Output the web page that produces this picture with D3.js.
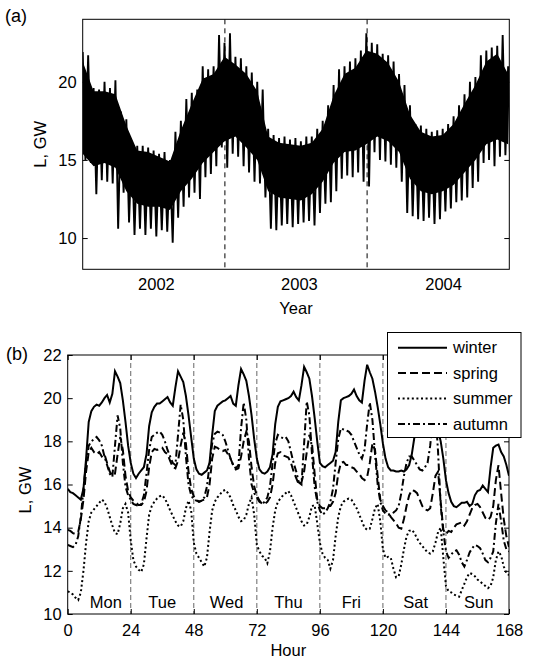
<!DOCTYPE html>
<html>
<head>
<meta charset="utf-8">
<script src="https://cdn.jsdelivr.net/npm/d3@7"></script>
<style>
body { margin: 0; background: #fff; }
text { font-family: "Liberation Sans", Arial, sans-serif; }
</style>
</head>
<body>
<svg id="fig" width="551" height="661"></svg>
<script>
// ---- panel (a): load, GW, read in two-week steps from 1 Jul 2001 ----
var startDay = "2001-07-01";
var endDay = "2004-06-30";
var stepDays = 14;
var loadHigh = [21.9, 21.7, 19.6, 19.5, 20.0, 19.6, 20.1, 18.1, 17.6, 16.2,
    15.9, 15.9, 15.8, 15.6, 15.4, 15.5, 15.0, 16.8, 17.5, 18.9,
    19.3, 19.5, 21.0, 20.8, 21.0, 23.0, 22.5, 23.1, 21.6, 21.5,
    21.0, 20.6, 20.0, 19.5, 17.0, 16.6, 16.4, 16.5, 16.3, 16.4,
    16.2, 16.5, 16.5, 17.0, 17.5, 18.5, 19.8, 20.8, 21.0, 21.3,
    21.5, 22.0, 23.1, 22.5, 22.4, 21.8, 21.7, 21.3, 20.5, 19.8,
    18.5, 17.3, 17.2, 17.0, 16.8, 16.9, 17.0, 17.3, 17.8, 18.5,
    19.2, 20.0, 20.3, 21.7, 22.0, 22.2, 22.3, 23.0, 21.0];
var loadLow = [15.0, 14.8, 12.8, 13.7, 13.6, 13.5, 10.6, 12.9, 11.0, 10.2,
    10.6, 10.2, 10.6, 10.1, 10.5, 10.4, 9.7, 11.3, 12.0, 12.6,
    12.9, 12.5, 13.9, 14.1, 14.6, 15.8, 14.5, 15.4, 15.2, 14.6,
    14.2, 13.6, 13.5, 12.6, 10.6, 10.5, 10.8, 10.9, 10.7, 10.9,
    11.0, 11.1, 10.8, 11.6, 12.2, 12.3, 13.0, 13.8, 14.0, 13.9,
    14.2, 13.6, 13.3, 15.5, 15.0, 14.9, 14.7, 14.5, 13.6, 11.6,
    11.4, 11.2, 11.1, 11.3, 10.9, 11.2, 11.7, 11.9, 12.3, 12.4,
    12.6, 13.2, 13.6, 14.8, 15.0, 14.6, 15.2, 15.3, 12.6];
// edges of the solid part of the band, four-week steps
var coreStepDays = 28;
var loadCoreTop = [21.3, 19.4, 19.4, 19.2, 17.2, 15.6, 15.5, 15.2, 14.9, 16.9,
    18.6, 20.2, 20.5, 21.6, 21.1, 20.5, 19.4, 16.5, 16.1, 16.0,
    15.9, 16.1, 17.0, 19.1, 20.5, 20.9, 22.0, 21.8, 21.2, 20.0,
    17.9, 16.8, 16.5, 16.6, 17.3, 18.6, 19.8, 21.3, 21.8, 20.5];
var loadCore = [15.4, 14.6, 14.8, 14.5, 13.0, 12.2, 12.0, 12.0, 11.8, 13.0,
    13.8, 14.8, 15.5, 16.2, 16.5, 15.8, 15.0, 13.0, 12.6, 12.5,
    12.4, 12.8, 13.6, 14.8, 15.5, 15.6, 16.0, 16.5, 16.2, 15.5,
    13.8, 13.0, 12.8, 13.0, 13.4, 14.2, 15.0, 16.0, 16.3, 16.0];
var yearLabels = ["2002", "2003", "2004"];
var yearLabelDays = ["2002-01-05", "2003-01-07", "2004-01-12"];
var yearBreaks = ["2002-07-01", "2003-07-01"];
var loadTicks = [10, 15, 20];

// ---- panel (b): mean weekly profiles, GW, hours 0..168 ----
var hours = d3.range(0, 169);
var winter = [
    15.8, 15.65, 15.6, 15.5, 15.4, 15.3, 15.8, 17.2, 18.9, 19.4, 19.6, 19.7, 19.65, 19.8, 20.0, 20.15, 19.8, 20.2, 21.25, 21.0, 20.7, 19.9, 18.9, 17.8,
    17.0, 16.5, 16.3, 16.5, 16.65, 16.8, 17.4, 18.7, 19.35, 19.6, 19.75, 19.75, 19.85, 19.95, 20.05, 19.8, 19.65, 20.5, 21.25, 21.0, 20.75, 20.1, 19.2, 18.2,
    17.2, 16.7, 16.5, 16.45, 16.55, 16.65, 17.0, 18.3, 19.4, 19.65, 19.75, 19.85, 19.9, 20.0, 20.1, 19.75, 19.65, 20.6, 21.35, 21.1, 20.8, 20.1, 19.2, 18.1,
    17.2, 16.7, 16.55, 16.5, 16.6, 16.8, 17.4, 18.8, 19.6, 19.85, 19.9, 19.95, 20.0, 20.1, 20.3, 20.05, 19.9, 20.6, 21.45, 21.2, 20.9, 20.1, 19.1, 18.0,
    17.0, 16.85, 16.8, 16.9, 17.0, 17.1, 17.5, 18.9, 19.9, 20.0, 20.05, 20.1, 20.2, 20.4, 20.1, 19.9, 19.8, 20.8, 21.55, 21.2, 20.9, 20.3, 19.6, 18.8,
    17.9, 17.2, 16.8, 16.65, 16.65, 16.6, 16.6, 16.65, 16.6, 16.7, 16.9, 17.4, 18.2, 18.8, 19.0, 18.8, 18.6, 18.8, 19.0, 19.2, 18.9, 18.5, 18.0, 17.2,
    16.2, 15.6, 15.2, 15.0, 14.95, 15.05, 15.15, 15.15, 15.2, 15.0, 15.1, 15.5, 15.7, 15.75, 15.95, 15.8, 15.65, 16.8, 17.7, 17.8, 17.85, 17.5, 17.3, 16.9,
    16.4];
var spring = [
    13.9, 13.85, 13.75, 13.7, 13.8, 14.4, 15.3, 16.6, 17.5, 17.7, 17.5, 17.4, 17.5, 17.3, 17.4, 17.0, 16.6, 16.4, 16.5, 17.4, 18.2, 17.6, 16.4, 15.7,
    15.4, 15.25, 15.15, 15.05, 15.05, 15.2, 15.7, 16.8, 17.5, 17.65, 17.6, 17.65, 17.7, 17.5, 17.4, 17.1, 16.8, 16.75, 17.1, 17.8, 18.4, 17.9, 16.6, 15.8,
    15.45, 15.3, 15.2, 15.25, 15.3, 15.4, 16.0, 17.2, 17.75, 17.7, 17.6, 17.55, 17.6, 17.4, 17.2, 16.9, 16.7, 16.75, 17.3, 18.0, 18.45, 18.0, 16.8, 15.9,
    15.5, 15.25, 15.1, 15.1, 15.2, 15.4, 16.0, 17.0, 17.45, 17.5, 17.35, 17.3, 17.25, 17.0, 16.6, 16.3, 16.0, 16.1, 16.6, 17.5, 18.3, 17.9, 16.5, 15.3,
    15.0, 14.9, 14.9, 15.0, 15.0, 15.2, 15.6, 16.5, 17.0, 17.05, 16.9, 16.9, 16.8, 16.75, 16.6, 16.5, 16.3, 16.2, 16.35, 17.0, 17.9, 17.6, 16.4, 15.3,
    15.0, 14.8, 14.7, 14.5, 14.35, 14.2, 14.0, 13.95, 14.4, 15.0, 15.5, 15.75, 15.7, 15.6, 15.3, 15.0, 14.85, 14.8, 14.9, 15.6, 16.4, 16.6, 15.2, 13.9,
    13.7, 13.85, 13.8, 14.0, 14.15, 14.2, 14.25, 14.1, 14.3, 14.6, 14.9, 15.05, 15.1, 14.95, 14.7, 14.45, 14.35, 14.5, 15.0, 16.2, 16.9, 15.6, 14.4, 13.6,
    13.1];
var summer = [
    11.05, 11.0, 10.9, 10.75, 10.65, 11.0, 12.0, 13.3, 14.3, 14.7, 14.85, 15.0, 15.15, 15.3, 15.2, 14.9, 14.5, 14.1, 13.75, 13.7, 14.2, 14.9, 15.1, 14.7,
    13.4, 12.5, 12.2, 12.05, 11.95, 12.3, 13.5, 14.6, 15.0, 15.2, 15.35, 15.45, 15.5, 15.35, 15.1, 14.8, 14.55, 14.3, 14.1, 14.05, 14.3, 14.9, 15.25, 14.8,
    13.3, 12.8, 12.6, 12.4, 12.2, 12.6, 13.8, 14.8, 15.2, 15.4, 15.55, 15.7, 15.75, 15.6, 15.4, 15.05, 14.8, 14.5, 14.3, 14.35, 14.6, 15.1, 15.4, 14.6,
    13.2, 12.9, 12.7, 12.6, 12.35, 12.9, 14.0, 14.8, 15.2, 15.35, 15.5, 15.6, 15.7, 15.5, 15.2, 14.9, 14.6, 14.3, 14.1, 14.15, 14.5, 15.0, 15.05, 14.2,
    13.3, 12.8, 12.6, 12.5, 12.1, 12.5, 13.6, 14.5, 15.0, 15.2, 15.3, 15.35, 15.3, 15.1, 14.9, 14.6, 14.3, 14.0, 13.9, 13.95, 14.4, 14.9, 15.1, 14.3,
    13.0, 12.6, 12.65, 12.6, 12.1, 11.7, 11.75, 12.3, 13.0, 13.6, 13.85, 13.9, 13.75, 13.5, 13.3, 13.15, 13.0, 12.85, 12.8, 12.9, 13.3, 13.8, 14.0, 12.6,
    11.3, 11.05, 11.0, 10.9, 10.85, 10.8, 11.1, 11.4, 11.7, 11.9, 11.85, 11.75, 11.6, 11.5, 11.4, 11.3, 11.2, 11.3, 11.7, 12.5, 12.9, 12.7, 12.2, 11.9,
    11.8];
var autumn = [
    13.2, 13.15, 13.1, 13.2, 13.6, 14.5, 15.8, 17.0, 17.8, 18.0, 18.1, 18.2, 18.05, 17.8, 17.3, 16.9, 16.5, 16.35, 17.8, 19.2, 18.6, 17.0, 15.9, 15.5,
    15.3, 15.1, 15.05, 15.0, 15.1, 15.5, 16.5, 17.6, 18.2, 18.3, 18.4, 18.45, 18.3, 18.0, 17.6, 17.3, 17.0, 16.9, 18.3, 19.7, 19.0, 17.3, 16.0, 15.5,
    15.3, 15.25, 15.2, 15.25, 15.4, 15.9, 16.9, 17.9, 18.35, 18.45, 18.4, 18.3, 18.0, 17.6, 17.2, 16.9, 16.75, 16.9, 18.6, 19.8, 19.0, 17.2, 16.0, 15.6,
    15.4, 15.2, 15.1, 15.2, 15.4, 15.9, 17.0, 17.9, 18.3, 18.2, 18.15, 18.2, 18.0, 17.5, 17.0, 16.6, 16.1, 16.0, 17.9, 19.85, 19.2, 17.4, 15.9, 15.2,
    14.8, 14.6, 14.7, 14.9, 15.2, 15.8, 17.0, 18.1, 18.6, 18.55, 18.5, 18.45, 18.3, 18.0, 17.7, 17.4, 17.2, 17.6, 18.8, 19.8, 19.0, 17.4, 16.0, 15.2,
    14.8, 14.65, 14.6, 14.65, 14.7, 14.8, 15.0, 15.6, 16.4, 17.0, 17.3, 17.3, 17.1, 16.9, 16.7, 16.65, 16.8, 17.0, 17.8, 19.0, 19.4, 17.5, 15.0, 13.8,
    12.9, 12.6, 12.75, 12.9, 12.95, 12.75, 12.4, 12.2, 12.5, 12.85, 13.05, 13.2, 13.15, 13.05, 12.8, 12.5, 12.4, 12.6, 12.9, 14.2, 15.1, 14.3, 13.4, 13.0,
    12.9];
var seasonNames = ["winter", "spring", "summer", "autumn"];
var dayNames = ["Mon", "Tue", "Wed", "Thu", "Fri", "Sat", "Sun"];
var dayLabelHours = [14.5, 36, 60.5, 84, 108, 132.5, 156.5];
var hourTicks = [0, 24, 48, 72, 96, 120, 144, 168];
var dayBreaks = [24, 48, 72, 96, 120, 144];
var gwTicks = [10, 12, 14, 16, 18, 20, 22];

var seasonDash = { winter: null, spring: "8,4", summer: "2,2.6", autumn: "7,3,2,3" };
var seasonData = { winter: winter, spring: spring, summer: summer, autumn: autumn };

var svg = d3.select("#fig");
var parse = d3.timeParse("%Y-%m-%d");
var t0 = parse(startDay);
var fontSize = "16.5px";

function dayAt(n) { return d3.timeDay.offset(t0, n); }

// ================= panel (a) =================
var ax = { left: 82.7, right: 509.3, top: 19.3, bottom: 269.3 };
var xA = d3.scaleTime().domain([t0, parse(endDay)]).range([ax.left, ax.right]);
var yA = d3.scaleLinear().domain([8, 24]).range([ax.bottom, ax.top]);

svg.append("clipPath").attr("id", "clipA")
  .append("rect").attr("x", ax.left).attr("y", ax.top)
  .attr("width", ax.right - ax.left).attr("height", ax.bottom - ax.top);

var gA = svg.append("g").attr("clip-path", "url(#clipA)");
var lineA = d3.line().x(function (d) { return xA(d[0]); }).y(function (d) { return yA(d[1]); });

// solid part of the band
var coreUp = loadCoreTop.map(function (v, j) { return [dayAt(j * coreStepDays), v]; });
var coreBack = loadCore.map(function (v, j) { return [dayAt(j * coreStepDays), v]; }).reverse();
gA.append("path")
  .attr("d", lineA(coreUp.concat(coreBack)) + "Z")
  .attr("fill", "#000");

// daily swings between the envelopes
var zig = [];
loadHigh.forEach(function (v, i) {
  zig.push([dayAt(i * stepDays), v]);
  zig.push([dayAt(i * stepDays + stepDays / 2), loadLow[i]]);
});
gA.append("path")
  .attr("d", lineA(zig))
  .attr("fill", "none").attr("stroke", "#000").attr("stroke-width", 1.9)
  .attr("stroke-linejoin", "miter").attr("stroke-miterlimit", 2);

gA.selectAll(".yb").data(yearBreaks).enter().append("line")
  .attr("x1", function (d) { return xA(parse(d)); }).attr("x2", function (d) { return xA(parse(d)); })
  .attr("y1", ax.top).attr("y2", ax.bottom)
  .attr("stroke", "#000").attr("stroke-dasharray", "5,4").attr("stroke-width", 1);

svg.append("g").attr("transform", "translate(" + ax.left + ",0)")
  .call(d3.axisLeft(yA).tickValues(loadTicks).tickSize(-5).tickPadding(6))
  .call(function (g) { g.select(".domain").remove(); });
svg.append("g").attr("transform", "translate(" + ax.right + ",0)")
  .call(d3.axisRight(yA).tickValues(loadTicks).tickSize(-5).tickFormat(""))
  .call(function (g) { g.select(".domain").remove(); });
svg.append("g").attr("transform", "translate(0," + ax.bottom + ")")
  .call(d3.axisBottom(xA).tickValues(yearLabelDays.map(parse)).tickSize(0).tickPadding(9)
    .tickFormat(function (d, i) { return yearLabels[i]; }))
  .call(function (g) { g.select(".domain").remove(); });

svg.append("rect").attr("x", ax.left).attr("y", ax.top)
  .attr("width", ax.right - ax.left).attr("height", ax.bottom - ax.top)
  .attr("fill", "none").attr("stroke", "#000").attr("stroke-width", 1);

svg.append("text").attr("x", (ax.left + ax.right) / 2).attr("y", 314)
  .attr("text-anchor", "middle").text("Year");
svg.append("text").attr("transform", "translate(46," + (ax.top + ax.bottom) / 2 + ") rotate(-90)")
  .attr("text-anchor", "middle").text("L, GW");
svg.append("text").attr("x", 5).attr("y", 22).style("font-size", "18px").text("(a)");

// ================= panel (b) =================
var bx = { left: 67.7, right: 509, top: 355, bottom: 614 };
var xB = d3.scaleLinear().domain([0, 168]).range([bx.left, bx.right]);
var yB = d3.scaleLinear().domain([10, 22]).range([bx.bottom, bx.top]);

svg.append("clipPath").attr("id", "clipB")
  .append("rect").attr("x", bx.left).attr("y", bx.top)
  .attr("width", bx.right - bx.left).attr("height", bx.bottom - bx.top);
var gB = svg.append("g").attr("clip-path", "url(#clipB)");

gB.selectAll(".db").data(dayBreaks).enter().append("line")
  .attr("x1", xB).attr("x2", xB)
  .attr("y1", bx.top).attr("y2", bx.bottom)
  .attr("stroke", "#666").attr("stroke-dasharray", "5,3").attr("stroke-width", 1);

var lineB = d3.line().x(function (d, i) { return xB(hours[i]); }).y(function (d) { return yB(d); });
seasonNames.forEach(function (s) {
  gB.append("path")
    .attr("d", lineB(seasonData[s]))
    .attr("fill", "none").attr("stroke", "#000").attr("stroke-width", 2)
    .attr("stroke-dasharray", seasonDash[s]);
});

svg.selectAll(".day").data(dayNames).enter().append("text")
  .attr("x", function (d, i) { return xB(dayLabelHours[i]); }).attr("y", 608)
  .attr("text-anchor", "middle").text(function (d) { return d; });

svg.append("g").attr("transform", "translate(" + bx.left + ",0)")
  .call(d3.axisLeft(yB).tickValues(gwTicks).tickSize(-5).tickPadding(6))
  .call(function (g) { g.select(".domain").remove(); });
svg.append("g").attr("transform", "translate(" + bx.right + ",0)")
  .call(d3.axisRight(yB).tickValues(gwTicks).tickSize(-5).tickFormat(""))
  .call(function (g) { g.select(".domain").remove(); });
svg.append("g").attr("transform", "translate(0," + bx.bottom + ")")
  .call(d3.axisBottom(xB).tickValues(hourTicks).tickSize(-5).tickPadding(10))
  .call(function (g) { g.select(".domain").remove(); });
svg.append("g").attr("transform", "translate(0," + bx.top + ")")
  .call(d3.axisTop(xB).tickValues(hourTicks).tickSize(-5).tickFormat(""))
  .call(function (g) { g.select(".domain").remove(); });

svg.append("rect").attr("x", bx.left).attr("y", bx.top)
  .attr("width", bx.right - bx.left).attr("height", bx.bottom - bx.top)
  .attr("fill", "none").attr("stroke", "#000").attr("stroke-width", 1);

svg.append("text").attr("x", (bx.left + bx.right) / 2).attr("y", 656)
  .attr("text-anchor", "middle").text("Hour");
svg.append("text").attr("transform", "translate(31," + 490 + ") rotate(-90)")
  .attr("text-anchor", "middle").text("L, GW");
svg.append("text").attr("x", 6).attr("y", 360).style("font-size", "18px").text("(b)");

// legend
var leg = svg.append("g");
leg.append("rect").attr("x", 387.5).attr("y", 332.5).attr("width", 133.5).attr("height", 105)
  .attr("fill", "#fff").attr("stroke", "#000").attr("stroke-width", 1);
seasonNames.forEach(function (s, i) {
  var y = 347.7 + i * 25.4;
  leg.append("line").attr("x1", 398).attr("x2", 447).attr("y1", y).attr("y2", y)
    .attr("stroke", "#000").attr("stroke-width", 2).attr("stroke-dasharray", seasonDash[s]);
  leg.append("text").attr("x", 453).attr("y", y).attr("dy", "0.35em").text(s);
});

svg.selectAll("text").style("font-family", "'Liberation Sans', Arial, sans-serif");
svg.selectAll("text").filter(function () { return !this.style.fontSize; }).style("font-size", fontSize);
svg.selectAll(".tick text").attr("fill", "#000").style("font-size", fontSize);
svg.selectAll(".tick line").attr("stroke", "#000");
</script>
</body>
</html>
